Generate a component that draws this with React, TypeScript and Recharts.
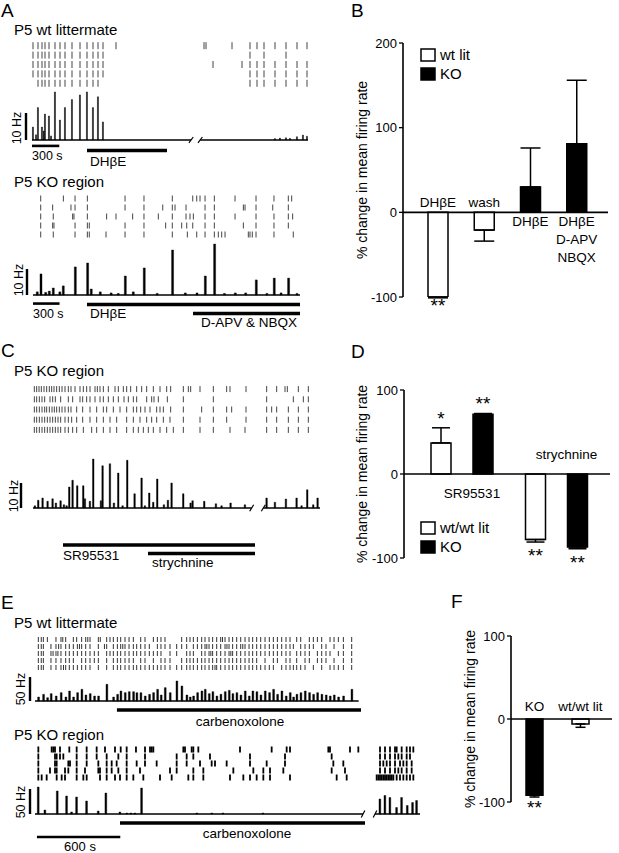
import React from "react";
import {
  Bar,
  BarChart,
  Cell,
  ComposedChart,
  ErrorBar,
  LabelList,
  Legend,
  ReferenceLine,
  Scatter,
  ScatterChart,
  XAxis,
  YAxis,
} from "recharts";

const FONT = "'Liberation Sans', Arial, Helvetica, sans-serif";

// ---------- A, P5 wt littermate (time s, rate Hz) ----------
const aWtSpikeT = [11, 45, 66, 110, 130, 143, 187, 210, 253, 308, 363, 440, 528, 605, 671, 726, 781, 2673, 2728, 2794, 2838, 2915, 2981, 3025];
const aWtSpikeHz = [4.8, 1.9, 12, 4.8, 3.3, 9.6, 8.9, 1.5, 17.8, 7.4, 12, 15, 16.7, 17.8, 12, 16, 6.7, 0.5, 0.7, 0.8, 0.6, 1.2, 1.8, 1.4];
const aWtRow1 = [11, 66, 110, 143, 187, 253, 308, 363, 440, 528, 605, 671, 726, 781, 924, 1892, 1914, 2200, 2398, 2475, 2552, 2673, 2794, 2915, 3025];
const aWtRow2 = [11, 66, 110, 143, 187, 253, 308, 363, 440, 528, 605, 671, 726, 781, 2398, 2552, 2794];
const aWtRow3 = [11, 66, 110, 143, 187, 253, 308, 363, 440, 528, 605, 671, 726, 781, 1991, 2310, 2398, 2475, 2552, 2673, 2794, 2915, 3025];
const aWtRow4 = [11, 66, 110, 143, 187, 253, 308, 363, 440, 528, 605, 671, 726, 781, 2398, 2475, 2552, 2673, 2794, 2915, 3025];
const aWtRow5 = [66, 110, 143, 187, 253, 308, 363, 440, 528, 605, 671, 726, 2398, 2475, 2552, 2673, 2794, 2915, 3025];
const aWtEnd = 3036;
const aWtGap = [1750, 1850];
const aWtScale = [0, 300];
const aWtDHbE = [605, 1485];

// ---------- A, P5 KO region ----------
const aKoSpikeT = [45, 87, 140, 181, 226, 300, 339, 475, 614, 655, 757, 880, 960, 1040, 1130, 1254, 1400, 1574, 1718, 1850, 1944, 2049, 2160, 2283, 2400, 2520, 2640, 2723, 2800, 2885, 2980];
const aKoSpikeHz = [1.2, 8.1, 1.0, 1.5, 2.7, 1.2, 3.5, 10.8, 12.3, 2.3, 1.2, 0.8, 0.6, 7.3, 1.2, 10.4, 0.6, 17.3, 0.8, 0.8, 7.3, 19.6, 0.6, 0.8, 0.8, 5.8, 0.6, 6.5, 0.8, 6.5, 0.6];
const aKoRow1 = [87, 343, 475, 614, 1040, 1254, 1574, 1805, 1850, 1887, 1944, 2049, 2283, 2520, 2723, 2885, 2923];
const aKoRow2 = [87, 222, 429, 475, 614, 1040, 1254, 1466, 1574, 1605, 1729, 1944, 2049, 2377, 2396, 2520, 2709, 2885];
const aKoRow3 = [87, 229, 448, 463, 614, 832, 938, 1126, 1254, 1416, 1574, 1729, 1774, 1812, 1944, 2049, 2283, 2520, 2723, 2885, 2934];
const aKoRow4 = [87, 222, 237, 475, 614, 636, 1040, 1254, 1499, 1574, 1680, 1737, 1805, 1944, 2049, 2377, 2520, 2723, 2885];
const aKoRow5 = [87, 229, 475, 614, 636, 825, 1040, 1254, 1574, 1744, 1850, 1944, 2049, 2094, 2132, 2170, 2433, 2452, 2478, 2520, 2723, 2941];
const aKoEnd = 3017;
const aKoScale = [0, 300];
const aKoDHbE = [610, 3017];
const aKoApvNbqx = [1808, 3017];

// ---------- C, P5 KO region ----------
const cSpikeT = [18, 48, 87, 132, 177, 207, 249, 279, 303, 327, 357, 399, 453, 468, 513, 543, 612, 627, 693, 729, 768, 807, 849, 915, 978, 1008, 1047, 1083, 1119, 1179, 1215, 1248, 1353, 1419, 1437, 1542, 1647, 1698, 1779, 1908, 2103, 2178, 2277, 2373, 2418, 2469, 2523, 2562];
const cSpikeHz = [0.9, 3.1, 4, 2.7, 3.7, 2, 2.9, 1.3, 0.9, 8.4, 11.1, 8.9, 8.9, 3.7, 2.7, 19.6, 2.9, 16.9, 17.7, 2, 14, 0.9, 19.1, 5.7, 12, 0.9, 6, 2.3, 11.6, 1.3, 3.1, 10, 5.7, 2, 2.9, 2.7, 1.7, 0.9, 2, 1.3, 4, 2.3, 3.6, 4, 0.9, 7.3, 1.3, 4];
const cRow1 = [12, 33, 54, 75, 99, 123, 147, 168, 189, 213, 237, 261, 288, 318, 342, 378, 423, 453, 483, 513, 558, 579, 603, 633, 678, 738, 768, 813, 843, 879, 933, 978, 1023, 1083, 1143, 1203, 1239, 1353, 1398, 1419, 1503, 1623, 1743, 1773, 1917, 2103, 2193, 2268, 2289, 2388, 2478];
const cRow2 = [12, 33, 57, 81, 105, 153, 177, 201, 249, 318, 357, 423, 447, 483, 513, 558, 603, 633, 678, 723, 768, 819, 858, 903, 933, 1023, 1068, 1089, 1128, 1209, 1353, 1623, 2103, 2343, 2433, 2478];
const cRow3 = [12, 33, 57, 81, 105, 123, 147, 171, 192, 213, 237, 261, 288, 318, 342, 393, 447, 513, 573, 633, 663, 723, 783, 843, 903, 933, 969, 1008, 1053, 1113, 1143, 1173, 1239, 1353, 1518, 1623, 1743, 1788, 1917, 2103, 2148, 2193, 2298, 2388, 2478];
const cRow4 = [12, 33, 57, 81, 105, 129, 153, 177, 201, 225, 249, 288, 318, 348, 393, 447, 513, 573, 633, 693, 753, 843, 903, 963, 1023, 1068, 1113, 1173, 1233, 1353, 1503, 1623, 1743, 1917, 2103, 2193, 2298, 2388, 2478];
const cRow5 = [12, 33, 57, 81, 105, 129, 153, 177, 201, 225, 249, 288, 318, 357, 393, 453, 528, 573, 633, 693, 753, 843, 903, 948, 993, 1038, 1083, 1143, 1203, 1263, 1353, 1503, 1623, 1773, 1908, 2103, 2193, 2298, 2388, 2478];
const cEnd = 2583;
const cGap = [1968, 2073];
const cSR95531 = [270, 1998];
const cStrychnine = [1035, 1998];

// ---------- E, P5 wt littermate ----------
const eWtSpikeT = [24, 60, 89, 115, 151, 187, 221, 247, 276, 305, 336, 365, 396, 427, 456, 516, 564, 593, 617, 648, 677, 708, 732, 761, 792, 823, 852, 881, 907, 936, 972, 1020, 1056, 1092, 1116, 1140, 1169, 1200, 1224, 1253, 1279, 1308, 1337, 1368, 1397, 1423, 1452, 1481, 1512, 1541, 1567, 1596, 1625, 1656, 1687, 1716, 1745, 1776, 1807, 1836, 1860, 1884, 1913, 1944, 1975, 2004, 2033, 2064, 2095, 2124, 2153, 2184, 2220, 2280];
const eWtSpikeHz = [8.3, 13.9, 6.9, 15.3, 10.4, 17.4, 8.3, 20.8, 8.3, 17.4, 24.3, 12.5, 15.3, 10.4, 10.4, 34.7, 8.3, 13.9, 20.8, 17.4, 19.4, 19.4, 17.4, 17.4, 10.4, 13.9, 17.4, 24.3, 12.5, 27.8, 17.4, 41.7, 31.2, 12.5, 8.3, 10.4, 17.4, 20.8, 24.3, 15.3, 19.4, 10.4, 13.9, 19.4, 22.2, 15.3, 17.4, 12.5, 20.8, 10.4, 20.8, 19.4, 12.5, 20.8, 17.4, 24.3, 13.9, 20.8, 10.4, 17.4, 8.3, 13.9, 17.4, 20.8, 17.4, 13.9, 17.4, 13.9, 12.5, 10.4, 12.5, 8.3, 10.4, 24.3];
const eWtRow1 = [24, 45, 60, 89, 151, 187, 200, 221, 276, 300, 336, 365, 380, 396, 456, 470, 516, 540, 564, 593, 617, 648, 677, 708, 761, 792, 852, 881, 907, 936, 1056, 1092, 1116, 1140, 1169, 1200, 1224, 1253, 1279, 1308, 1337, 1350, 1368, 1397, 1423, 1452, 1481, 1512, 1541, 1567, 1596, 1625, 1656, 1687, 1716, 1745, 1776, 1807, 1836, 1884, 1913, 1975, 2004, 2033, 2064, 2124, 2153, 2184, 2220, 2280];
const eWtRow2 = [24, 45, 60, 115, 151, 170, 187, 221, 247, 276, 305, 320, 336, 365, 396, 456, 500, 516, 564, 593, 617, 632, 648, 677, 708, 732, 761, 792, 823, 881, 907, 936, 972, 1020, 1056, 1092, 1140, 1169, 1200, 1224, 1237, 1253, 1279, 1308, 1337, 1368, 1382, 1397, 1423, 1452, 1481, 1496, 1512, 1541, 1567, 1596, 1625, 1656, 1687, 1716, 1745, 1776, 1807, 1836, 1860, 1913, 1944, 1975, 2004, 2064, 2095, 2153, 2220, 2280];
const eWtRow3 = [24, 45, 60, 115, 130, 151, 165, 187, 221, 247, 276, 305, 336, 365, 396, 427, 456, 516, 540, 564, 593, 617, 648, 677, 708, 732, 761, 792, 823, 852, 881, 907, 972, 1020, 1092, 1116, 1140, 1200, 1224, 1253, 1266, 1279, 1308, 1337, 1368, 1397, 1410, 1423, 1452, 1481, 1512, 1541, 1567, 1596, 1625, 1656, 1687, 1716, 1745, 1776, 1807, 1836, 1884, 1913, 1944, 1975, 2033, 2064, 2095, 2124, 2184, 2220, 2280];
const eWtRow4 = [24, 45, 60, 115, 151, 187, 221, 247, 276, 336, 365, 396, 427, 456, 516, 564, 593, 617, 648, 677, 708, 761, 792, 852, 907, 936, 972, 1056, 1092, 1116, 1140, 1169, 1200, 1224, 1253, 1279, 1308, 1337, 1368, 1397, 1423, 1452, 1481, 1512, 1541, 1567, 1596, 1656, 1716, 1745, 1807, 1836, 1884, 1944, 1975, 2033, 2064, 2095, 2153, 2220, 2280];
const eWtRow5 = [24, 45, 60, 115, 151, 187, 205, 221, 247, 276, 305, 336, 365, 396, 456, 516, 564, 593, 617, 648, 677, 708, 732, 761, 792, 823, 852, 881, 907, 936, 972, 1020, 1056, 1092, 1116, 1140, 1169, 1200, 1224, 1253, 1279, 1296, 1308, 1337, 1368, 1397, 1423, 1452, 1481, 1512, 1541, 1567, 1596, 1625, 1656, 1687, 1716, 1776, 1807, 1836, 1860, 1884, 1913, 1944, 2004, 2064, 2124, 2153, 2184, 2220, 2280];
const eWtEnd = 2330;
const eWtCbx = [590, 2347];

// ---------- E, P5 KO region ----------
const eKoSpikeT = [24, 72, 161, 228, 264, 300, 372, 456, 511, 612, 662, 691, 720, 768, 1166, 1274, 1354, 1642, 2484, 2520, 2556, 2604, 2640, 2681, 2719, 2748];
const eKoSpikeHz = [54, 8, 46, 36, 4, 34, 26, 6, 42, 4, 2, 2, 2, 52, 2, 2, 2, 2, 30, 37, 33, 13, 33, 17, 23, 27];
const eKoRow1 = [24, 120, 132, 144, 180, 247, 300, 372, 444, 504, 576, 617, 660, 727, 792, 828, 840, 852, 1068, 1080, 1128, 1140, 1176, 1476, 1704, 1812, 1836, 2112, 2124, 2268, 2328, 2484, 2520, 2556, 2592, 2604, 2640, 2676, 2700, 2724];
const eKoRow2 = [24, 144, 156, 180, 204, 300, 372, 444, 516, 600, 660, 792, 1020, 1092, 1140, 1260, 1548, 1800, 2136, 2484, 2520, 2556, 2592, 2616, 2640, 2676, 2700];
const eKoRow3 = [24, 144, 156, 240, 252, 300, 372, 456, 516, 552, 588, 660, 732, 792, 876, 1020, 1092, 1188, 1272, 1296, 1380, 1548, 1668, 1800, 2148, 2220, 2484, 2508, 2532, 2556, 2592, 2628, 2652, 2676, 2712];
const eKoRow4 = [24, 108, 144, 156, 216, 240, 300, 360, 456, 468, 516, 552, 600, 660, 756, 972, 1020, 1140, 1212, 1428, 1572, 1644, 1692, 1788, 2136, 2232, 2484, 2520, 2556, 2592, 2616, 2640, 2676, 2712];
const eKoRow5 = [24, 48, 84, 156, 192, 216, 300, 348, 372, 468, 516, 576, 612, 660, 708, 780, 900, 984, 1104, 1140, 1212, 1404, 1500, 1548, 1596, 1644, 1692, 1836, 2172, 2244, 2460, 2472, 2484, 2496, 2508, 2520, 2532, 2544, 2556, 2568, 2580, 2604, 2628, 2652, 2676, 2700, 2724];
const eKoEnd = 2772;
const eKoGap = [2362, 2448];
const eKoScale = [14, 614];
const eKoCbx = [612, 2376];

// ---------- B, % change in mean firing rate ----------
const bKeys = ["wt-DHbE", "wt-wash", "ko-DHbE", "ko-mix"];
const bLabels = [["DHβE"], ["wash"], ["DHβE"], ["DHβE", "D-APV", "NBQX"]];
const bGenotype = ["wt lit", "wt lit", "KO", "KO"];
const bChange = [-100, -21, 30, 81];
const bSem = [1, 13, 46, 75];
const bStars = ["**", "", "", ""];

// ---------- D ----------
const dCats = ["SR95531", "strychnine"];
const dWt = [37, -78];
const dWtSem = [18, 3];
const dWtStars = ["*", "**"];
const dKo = [71, -87];
const dKoSem = [1, 2];
const dKoStars = ["**", "**"];

// ---------- F ----------
const fCats = ["KO", "wt/wt lit"];
const fChange = [-92, -6];
const fSem = [2, 4];
const fStars = ["**", ""];

const Y_TITLE = "% change in mean firing rate";

const errRange = (v: number, e: number) => (v < 0 ? [e, 0] : [0, e]);

type HBar = { span: number[]; y: number; w: number };

function Trace(p: {
  left: number;
  top: number;
  width: number;
  height: number;
  xDomain: [number, number];
  yDomain: [number, number];
  times: number[];
  hz: number[];
  end: number;
  gap?: number[];
  scaleX: number;
  scaleHz: number;
  bars: HBar[];
  spikeW?: number;
  brk?: [number, number];
}) {
  const data = p.times.map((t, i) => ({ t, hz: p.hz[i] }));
  const base = p.gap ? [[0, p.gap[0]], [p.gap[1], p.end]] : [[0, p.end]];
  const brk = p.brk ?? [20, 1];
  return (
    <div style={{ position: "absolute", left: p.left, top: p.top }}>
      <ComposedChart width={p.width} height={p.height} data={data} margin={{ top: 0, right: 0, bottom: 0, left: 0 }}>
        <XAxis type="number" dataKey="t" domain={p.xDomain} hide allowDataOverflow />
        <YAxis type="number" domain={p.yDomain} hide allowDataOverflow />
        {base.map(([a, b], i) => (
          <ReferenceLine key={`b${i}`} segment={[{ x: a, y: 0 }, { x: b, y: 0 }]} stroke="#000" strokeWidth={1.6} />
        ))}
        {(p.gap ?? []).map((g, i) => (
          <ReferenceLine
            key={`g${i}`}
            segment={[{ x: g - brk[0], y: -brk[1] }, { x: g + brk[0], y: brk[1] }]}
            stroke="#000"
            strokeWidth={1.2}
          />
        ))}
        <ReferenceLine segment={[{ x: p.scaleX, y: 0 }, { x: p.scaleX, y: p.scaleHz }]} stroke="#000" strokeWidth={2.4} />
        {p.bars.map((b, i) => (
          <ReferenceLine key={`h${i}`} segment={[{ x: b.span[0], y: b.y }, { x: b.span[1], y: b.y }]} stroke="#000" strokeWidth={b.w} />
        ))}
        <Bar dataKey="hz" fill="#000" stroke="#000" strokeWidth={0.4} barSize={p.spikeW ?? 2} isAnimationActive={false} />
      </ComposedChart>
    </div>
  );
}

function Raster(p: {
  left: number;
  top: number;
  width: number;
  height: number;
  xDomain: [number, number];
  rows: number[][];
  color: string;
  sw: number;
  half: number;
}) {
  const pts = p.rows.flatMap((r, i) => r.map((t) => ({ t, row: i + 1 })));
  return (
    <div style={{ position: "absolute", left: p.left, top: p.top }}>
      <ScatterChart width={p.width} height={p.height} margin={{ top: 0, right: 0, bottom: 0, left: 0 }}>
        <XAxis type="number" dataKey="t" domain={p.xDomain} hide allowDataOverflow />
        <YAxis type="number" dataKey="row" domain={[0.5, p.rows.length + 0.5]} reversed hide allowDataOverflow />
        <Scatter
          data={pts}
          isAnimationActive={false}
          shape={(s: any) => (
            <line x1={s.cx} x2={s.cx} y1={s.cy - p.half} y2={s.cy + p.half} stroke={p.color} strokeWidth={p.sw} />
          )}
        />
      </ScatterChart>
    </div>
  );
}

const yTitle = (xOff: number) => (props: any) => {
  const vb = props.viewBox;
  if (!vb) return null;
  const cx = vb.x + xOff;
  const cy = vb.y + vb.height / 2;
  return (
    <text
      x={cx}
      y={cy}
      transform={`rotate(-90 ${cx} ${cy})`}
      textAnchor="middle"
      dominantBaseline="central"
      fontSize={14}
      fontFamily={FONT}
      fill="#000"
    >
      {Y_TITLE}
    </text>
  );
};

type Ann = { above: number; below: number; gap: number; starAbove: number; starBelow: number; shift: number };

// category labels sit on the far side of the zero line; stars sit past the error bar
const annotate =
  (rows: any[], vKey: string, eKey: string, sKey: string, lKey: string | null, o: Ann) =>
  (props: any) => {
    const vb = props.viewBox;
    const r = rows[props.value];
    if (!vb || !r) return null;
    const v = r[vKey];
    const y1 = vb.y;
    const y2 = vb.y + vb.height;
    const top = Math.min(y1, y2);
    const bot = Math.max(y1, y2);
    const neg = v < 0;
    const zero = neg ? top : bot;
    const end = neg ? bot : top;
    const per = (bot - top) / Math.abs(v);
    const cx = vb.x + vb.width / 2;
    const lines: string[] = lKey ? r[lKey] : [];
    const items: React.ReactNode[] = lines.map((ln, i) => (
      <text
        key={`l${i}`}
        x={cx + o.shift}
        y={neg ? zero - o.above - (lines.length - 1 - i) * o.gap : zero + o.below + i * o.gap}
        textAnchor="middle"
        fontSize={13.5}
        fontFamily={FONT}
        fill="#000"
      >
        {ln}
      </text>
    ));
    if (r[sKey]) {
      const e = r[eKey] * per;
      items.push(
        <text
          key="s"
          x={cx}
          y={neg ? end + e + o.starBelow : end - e - o.starAbove}
          textAnchor="middle"
          fontSize={19}
          fontFamily={FONT}
          fill="#000"
        >
          {r[sKey]}
        </text>
      );
    }
    return <g>{items}</g>;
  };

const legendBoxes = (labels: string[]) => () => (
  <div style={{ fontFamily: FONT, fontSize: 15, lineHeight: "19px", color: "#000" }}>
    {labels.map((l, i) => (
      <div key={l} style={{ display: "flex", alignItems: "center", height: 19 }}>
        <svg width={17} height={14}>
          <rect x={1} y={1} width={14} height={12} fill={i === 0 ? "#fff" : "#000"} stroke="#000" strokeWidth={1.5} />
        </svg>
        <span style={{ marginLeft: 3 }}>{l}</span>
      </div>
    ))}
  </div>
);

const axisProps = {
  axisLine: { stroke: "#000", strokeWidth: 1.6 },
  tickLine: { stroke: "#000", strokeWidth: 1.3 },
  tickSize: 4,
  tick: { fill: "#000", fontSize: 13, fontFamily: FONT },
};

function PanelB() {
  const rows = bKeys.map((k, i) => ({
    key: k,
    idx: i,
    value: bChange[i],
    err: errRange(bChange[i], bSem[i]),
    sem: bSem[i],
    lines: bLabels[i],
    stars: bStars[i],
    geno: bGenotype[i],
  }));
  return (
    <div style={{ position: "absolute", left: 330, top: 0 }}>
      <BarChart width={289} height={316} data={rows} margin={{ top: 43, right: 11, bottom: 19, left: 0 }}>
        <XAxis dataKey="key" hide padding={{ left: 12, right: 8 }} />
        <YAxis width={73} domain={[-100, 200]} ticks={[-100, 0, 100, 200]} allowDataOverflow {...axisProps} label={yTitle(32)} />
        <ReferenceLine y={0} stroke="#000" strokeWidth={1.6} />
        <Legend
          layout="vertical"
          align="center"
          verticalAlign="middle"
          content={legendBoxes(["wt lit", "KO"])}
          wrapperStyle={{ left: 90, top: 45, width: 80, height: 40 }}
        />
        <Bar dataKey="value" barSize={20} isAnimationActive={false} legendType="square">
          {rows.map((r) => (
            <Cell key={r.key} fill={r.geno === "KO" ? "#000" : "#fff"} stroke="#000" strokeWidth={1.5} />
          ))}
          <ErrorBar dataKey="err" width={10} stroke="#000" strokeWidth={1.5} direction="y" />
          <LabelList
            dataKey="idx"
            content={annotate(rows, "value", "sem", "stars", "lines", { above: 5, below: 14, gap: 18, starAbove: 3, starBelow: 14.5, shift: 0 })}
          />
        </Bar>
      </BarChart>
    </div>
  );
}

function PanelD() {
  const rows = dCats.map((c, i) => ({
    cat: c,
    idx: i,
    wt: dWt[i],
    wtErr: errRange(dWt[i], dWtSem[i]),
    wtSem: dWtSem[i],
    wtStars: dWtStars[i],
    ko: dKo[i],
    koErr: errRange(dKo[i], dKoSem[i]),
    koSem: dKoSem[i],
    koStars: dKoStars[i],
    lines: [c],
  }));
  return (
    <div style={{ position: "absolute", left: 330, top: 380 }}>
      <BarChart width={289} height={192} data={rows} margin={{ top: 10, right: 9, bottom: 14, left: 0 }} barGap={22}>
        <XAxis dataKey="cat" hide padding={{ left: 11, right: 6 }} />
        <YAxis width={74} domain={[-100, 100]} ticks={[-100, 0, 100]} allowDataOverflow {...axisProps} label={yTitle(32)} />
        <ReferenceLine y={0} stroke="#000" strokeWidth={1.6} />
        <Legend
          layout="vertical"
          align="center"
          verticalAlign="middle"
          content={legendBoxes(["wt/wt lit", "KO"])}
          wrapperStyle={{ left: 90, top: 138, width: 90, height: 40 }}
        />
        <Bar dataKey="wt" barSize={20} fill="#fff" stroke="#000" strokeWidth={1.5} isAnimationActive={false}>
          <ErrorBar dataKey="wtErr" width={9} stroke="#000" strokeWidth={1.5} direction="y" />
          <LabelList
            dataKey="idx"
            content={annotate(rows, "wt", "wtSem", "wtStars", "lines", { above: 15, below: 24, gap: 16, starAbove: 3, starBelow: 20, shift: 31 })}
          />
        </Bar>
        <Bar dataKey="ko" barSize={20} fill="#000" stroke="#000" strokeWidth={1.5} isAnimationActive={false}>
          <ErrorBar dataKey="koErr" width={9} stroke="#000" strokeWidth={1.5} direction="y" />
          <LabelList
            dataKey="idx"
            content={annotate(rows, "ko", "koSem", "koStars", null, { above: 15, below: 24, gap: 16, starAbove: 4, starBelow: 20, shift: 0 })}
          />
        </Bar>
      </BarChart>
    </div>
  );
}

function PanelF() {
  const rows = fCats.map((c, i) => ({
    cat: c,
    idx: i,
    value: fChange[i],
    err: errRange(fChange[i], fSem[i]),
    sem: fSem[i],
    stars: fStars[i],
    lines: [c],
  }));
  return (
    <div style={{ position: "absolute", left: 420, top: 628 }}>
      <BarChart width={199} height={195} data={rows} margin={{ top: 8, right: 7, bottom: 21, left: 0 }}>
        <XAxis dataKey="cat" hide padding={{ left: 0, right: 9 }} />
        <YAxis width={91} domain={[-100, 100]} ticks={[-100, 0, 100]} allowDataOverflow {...axisProps} label={yTitle(50)} />
        <ReferenceLine y={0} stroke="#000" strokeWidth={1.6} />
        <Bar dataKey="value" barSize={17} isAnimationActive={false}>
          {rows.map((r) => (
            <Cell key={r.cat} fill={r.cat === "KO" ? "#000" : "#fff"} stroke="#000" strokeWidth={1.5} />
          ))}
          <ErrorBar dataKey="err" width={5} stroke="#000" strokeWidth={1.5} direction="y" />
          <LabelList
            dataKey="idx"
            content={annotate(rows, "value", "sem", "stars", "lines", { above: 8, below: 14, gap: 16, starAbove: 3, starBelow: 17, shift: 0 })}
          />
        </Bar>
      </BarChart>
    </div>
  );
}

const T = ({ x, y, s = 13.5, a = "start", rot = false, children }: any) => (
  <text
    x={x}
    y={y}
    fontSize={s}
    textAnchor={a}
    fontFamily={FONT}
    fill="#000"
    dominantBaseline={rot ? "central" : undefined}
    transform={rot ? `rotate(-90 ${x} ${y})` : undefined}
  >
    {children}
  </text>
);

export default function App() {
  const aWtX: [number, number] = [-132, aWtEnd];
  const aKoX: [number, number] = [-147, aKoEnd];
  const cX: [number, number] = [-162, cEnd];
  const eWtX: [number, number] = [-72, 2347];
  const eKoX: [number, number] = [-72, eKoEnd];
  return (
    <div style={{ position: "absolute", left: 0, top: 0, width: 619, height: 853, background: "#fff", overflow: "hidden" }}>
      {/* A */}
      <Raster left={20} top={41} width={288} height={47} xDomain={aWtX} rows={[aWtRow1, aWtRow2, aWtRow3, aWtRow4, aWtRow5]} color="#444" sw={1} half={3.5} />
      <Trace
        left={20}
        top={86}
        width={288}
        height={68}
        xDomain={aWtX}
        yDomain={[-5.2, 20]}
        times={aWtSpikeT}
        hz={aWtSpikeHz}
        end={aWtEnd}
        gap={aWtGap}
        brk={[24, 1.1]}
        scaleX={-66}
        scaleHz={10}
        bars={[
          { span: aWtScale, y: -2.2, w: 2.6 },
          { span: aWtDHbE, y: -3.9, w: 3.5 },
        ]}
      />
      <Raster left={20} top={194} width={280} height={45} xDomain={aKoX} rows={[aKoRow1, aKoRow2, aKoRow3, aKoRow4, aKoRow5]} color="#444" sw={1} half={3} />
      <Trace
        left={20}
        top={240}
        width={280}
        height={78}
        xDomain={aKoX}
        yDomain={[-8.85, 21.15]}
        times={aKoSpikeT}
        hz={aKoSpikeHz}
        end={aKoEnd}
        scaleX={-68}
        scaleHz={10}
        bars={[
          { span: aKoScale, y: -3.3, w: 2.6 },
          { span: aKoDHbE, y: -3.65, w: 3.5 },
          { span: aKoApvNbqx, y: -7.1, w: 3.5 },
        ]}
      />
      {/* C */}
      <Raster left={15} top={384} width={305} height={51} xDomain={cX} rows={[cRow1, cRow2, cRow3, cRow4, cRow5]} color="#444" sw={1} half={3} />
      <Trace
        left={15}
        top={455}
        width={305}
        height={103}
        xDomain={cX}
        yDomain={[-20, 21.2]}
        times={cSpikeT}
        hz={cSpikeHz}
        end={cEnd}
        gap={cGap}
        brk={[18, 1.3]}
        scaleX={-108}
        scaleHz={10}
        bars={[
          { span: cSR95531, y: -14.8, w: 3.5 },
          { span: cStrychnine, y: -18.2, w: 3.5 },
        ]}
      />
      {/* E */}
      <Raster left={25} top={636} width={336} height={35} xDomain={eWtX} rows={[eWtRow1, eWtRow2, eWtRow3, eWtRow4, eWtRow5]} color="#333" sw={1} half={2.5} />
      <Trace
        left={25}
        top={677}
        width={336}
        height={37}
        xDomain={eWtX}
        yDomain={[-27.1, 50]}
        times={eWtSpikeT}
        hz={eWtSpikeHz}
        end={eWtEnd}
        scaleX={-36}
        scaleHz={50}
        spikeW={1.8}
        bars={[{ span: eWtCbx, y: -18.75, w: 3.5 }]}
      />
      <Raster left={25} top={746} width={395} height={35} xDomain={eKoX} rows={[eKoRow1, eKoRow2, eKoRow3, eKoRow4, eKoRow5]} color="#000" sw={1.8} half={3} />
      <Trace
        left={25}
        top={784}
        width={395}
        height={57}
        xDomain={eKoX}
        yDomain={[-54, 60]}
        times={eKoSpikeT}
        hz={eKoSpikeHz}
        end={eKoEnd}
        gap={eKoGap}
        brk={[13, 7]}
        scaleX={-36}
        scaleHz={50}
        spikeW={1.8}
        bars={[
          { span: eKoCbx, y: -18, w: 3.5 },
          { span: eKoScale, y: -46, w: 2.6 },
        ]}
      />
      <PanelB />
      <PanelD />
      <PanelF />
      <svg width={619} height={853} style={{ position: "absolute", left: 0, top: 0, pointerEvents: "none" }}>
        <T x={1} y={17} s={19}>A</T>
        <T x={351} y={17} s={19}>B</T>
        <T x={1} y={357} s={19}>C</T>
        <T x={351} y={358} s={19}>D</T>
        <T x={1} y={609} s={19}>E</T>
        <T x={451} y={608} s={19}>F</T>

        <T x={14} y={35} s={15}>P5 wt littermate</T>
        <T x={17} y={128} s={12.5} a="middle" rot>10 Hz</T>
        <T x={32} y={160} s={12.5}>300 s</T>
        <T x={90} y={166}>DHβE</T>

        <T x={14} y={187} s={15}>P5 KO region</T>
        <T x={19} y={280} s={12.5} a="middle" rot>10 Hz</T>
        <T x={33} y={318} s={12.5}>300 s</T>
        <T x={90} y={318}>DHβE</T>
        <T x={201} y={327}>D-APV &amp; NBQX</T>

        <T x={14} y={376} s={15}>P5 KO region</T>
        <T x={14} y={496} s={12.5} a="middle" rot>10 Hz</T>
        <T x={63} y={560}>SR95531</T>
        <T x={152} y={567}>strychnine</T>

        <T x={14} y={628} s={15}>P5 wt littermate</T>
        <T x={21} y={689} s={12.5} a="middle" rot>50 Hz</T>
        <T x={240} y={726} a="middle">carbenoxolone</T>
        <T x={14} y={740} s={15}>P5 KO region</T>
        <T x={21} y={802} s={12.5} a="middle" rot>50 Hz</T>
        <T x={247} y={838} a="middle">carbenoxolone</T>
        <T x={80} y={851} s={13} a="middle">600 s</T>
      </svg>
    </div>
  );
}
